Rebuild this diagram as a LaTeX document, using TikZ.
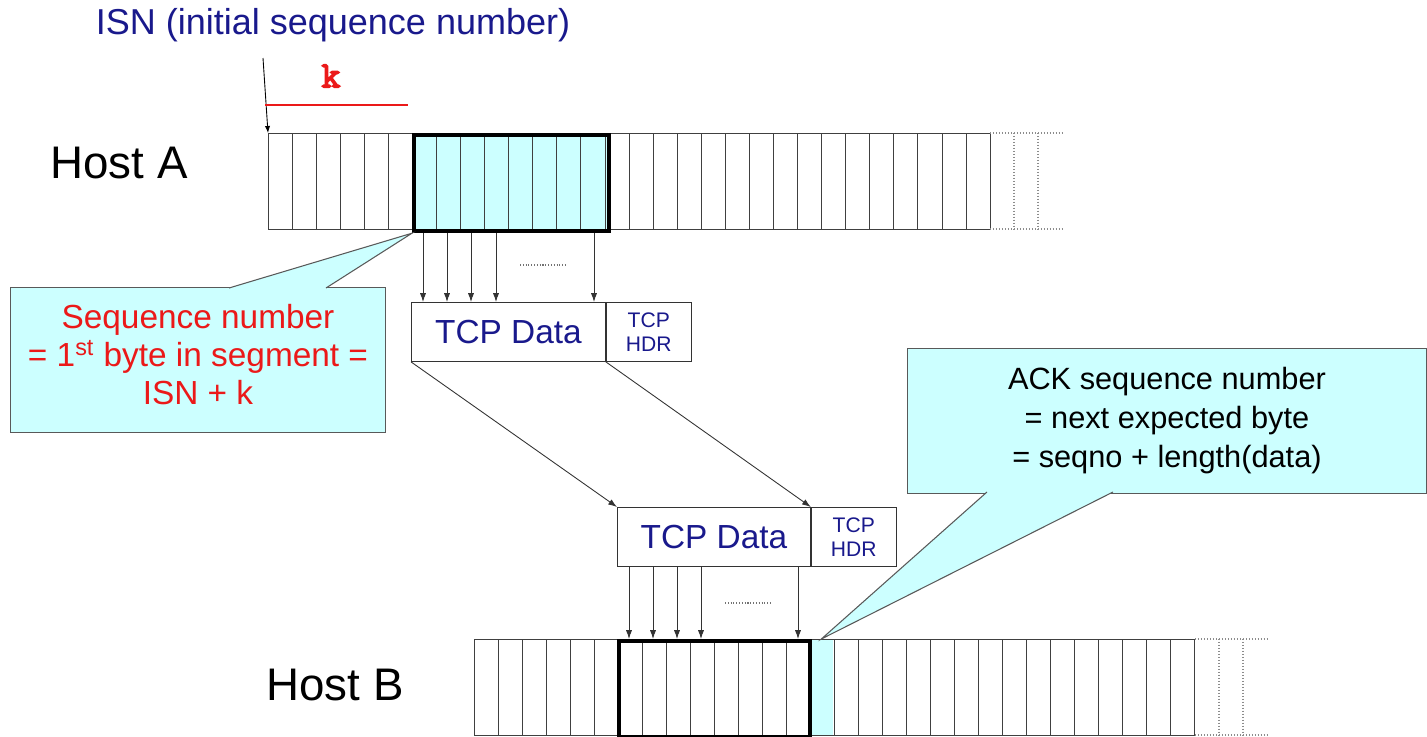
\documentclass[tikz,border=0pt]{standalone}
\usepackage{fontspec}
\setmainfont{Liberation Sans}
\newfontfamily\kfont[FakeBold=4]{Latin Modern Mono}
\usetikzlibrary{positioning,arrows.meta}
\definecolor{navy}{RGB}{25,25,140}
\definecolor{notecyan}{RGB}{204,255,255}
\definecolor{segred}{RGB}{235,25,25}

\begin{document}
\begin{tikzpicture}[x=0.02cm, y=-0.02cm,
  cell/.style={draw=black!75, line width=0.5pt},
  dotcell/.style={draw=black!45, line width=0.7pt, densely dotted},
  segbox/.style={draw=black, line width=2.4pt, inner sep=0pt, minimum height=1.92cm, anchor=north west},
  databox/.style={draw=black!80, line width=0.5pt, inner sep=0pt, minimum height=1.18cm,
    anchor=north west, text=navy, font=\fontsize{19}{22}\selectfont},
  hdrbox/.style={databox, minimum width=1.7cm, align=center, font=\fontsize{12}{13.7}\selectfont},
  notebox/.style={draw=black!65, fill=notecyan, line width=0.6pt, inner sep=0pt,
    minimum height=2.9cm, anchor=north west, align=center},
  pointer/.style={fill=notecyan, draw=black!65, line width=0.6pt},
  byte/.style={-{Latex[length=5pt,width=3.5pt]}, line width=0.5pt, draw=black!80},
  host/.style={font=\fontsize{26}{30}\selectfont}
]
\useasboundingbox (0,0) rectangle (1427,737);

% Labels on the left
\node[host] (hostA) at (119,163) {Host A};
\node[host] (hostB) at (335,685) {Host B};
\node[text=navy, font=\fontsize{20.5}{24}\selectfont] (isn) at (333,25) {ISN (initial sequence number)};

% ISN marker and offset k
\coordinate (isnmark) at (263,58);
\coordinate (rowA) at (268,133);
\draw[-{Latex[length=4pt,width=3pt]}, line width=0.5pt] (isnmark) -- (rowA);
\coordinate (kstart) at (265,105);
\coordinate (kend) at (408,105);
\draw[segred, line width=0.6pt] (kstart) -- (kend);
\node[text=segred, font=\kfont\fontsize{21}{22}\selectfont] (k) at (331,76) {k};

% Host A byte stream
\fill[notecyan] (412,133) rectangle (607,229);
\foreach \i in {0,...,29}
  \draw[cell] ({268+\i*24.07},133) rectangle ++(24.07,96);
\draw[dotcell] (990,133) -- (1062,133) (990,229) -- (1062,229)
  (1014,133) -- (1014,229) (1038,133) -- (1038,229);
\node[segbox, minimum width=3.9cm] (segA) at (412,133) {};

% Host B byte stream
\node[fill=notecyan, inner sep=0pt, minimum width=0.48cm, minimum height=1.92cm,
  anchor=north west] (ackB) at (809,639) {};
\foreach \i in {0,...,29}
  \draw[cell] ({474+\i*24.03},639) rectangle ++(24.03,96);
\draw[dotcell] (1195,639) -- (1267,639) (1195,735) -- (1267,735)
  (1219,639) -- (1219,735) (1243,639) -- (1243,735);
\node[segbox, minimum width=3.82cm] (segB) at (617,639) {};

% Segment in flight
\node[databox, minimum width=3.88cm] (dataA) at (411,302) {TCP Data\hspace{6pt}};
\node[hdrbox, right=0pt of dataA] (hdrA) {TCP\\HDR};
\node[databox, minimum width=3.86cm] (dataB) at (617,507) {TCP Data\hspace{6pt}};
\node[hdrbox, right=0pt of dataB] (hdrB) {TCP\\HDR};

% Bytes into the segment
\foreach \x in {423,447,471,496,594} {
  \path (\x,0) coordinate (tick);
  \draw[byte] (segA.south -| tick) -- (dataA.north -| tick);
}
\draw[black!55, line width=0.6pt, densely dotted] (520,265) -- (567,265);

% Segment travels to B
\draw[byte] (dataA.south west) -- (dataB.north west);
\draw[byte] (hdrA.south west) -- (hdrB.north west);

% Bytes out of the segment
\foreach \x in {629,653,677,701,798} {
  \path (\x,0) coordinate (tick);
  \draw[byte] (dataB.south -| tick) -- (segB.north -| tick);
}
\draw[black!55, line width=0.6pt, densely dotted] (725,603) -- (772,603);

% Callout: sequence number
\node[notebox, minimum width=7.5cm, text=segred, font=\fontsize{19}{21.6}\selectfont]
  (seqnote) at (10,287) {Sequence number\\= 1\textsuperscript{st} byte in segment =\\ISN + k\\[-14.8pt]};
\coordinate (seqL) at (229,288);
\coordinate (seqR) at (326,288);
\filldraw[pointer] (seqL) -- (segA.south west) -- (seqR);

% Callout: ack number
\node[notebox, minimum width=10.38cm, font=\fontsize{17.5}{22.2}\selectfont]
  (acknote) at (907,348) {ACK sequence number\\= next expected byte\\= seqno + length(data)};
\coordinate (ackL) at (987,492);
\coordinate (ackR) at (1113,492);
\filldraw[pointer] (ackL) -- (ackB.north) -- (ackR);

\end{tikzpicture}
\end{document}
